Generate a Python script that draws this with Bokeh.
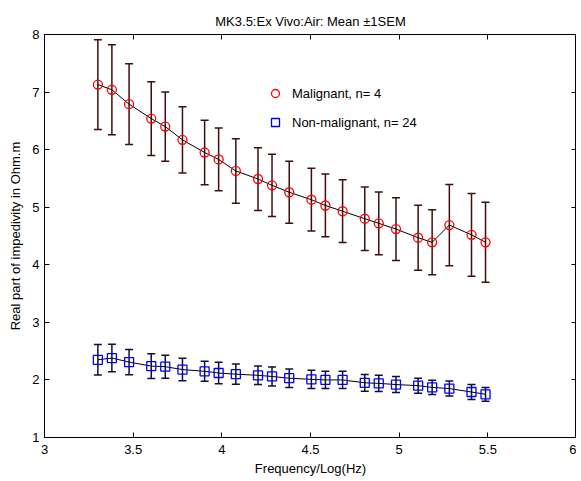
from bokeh.plotting import figure
from bokeh.models import (ColumnDataSource, Whisker, TeeHead, Legend, LegendItem,
                          LinearAxis, Range1d, FixedTicker)
from bokeh.embed import file_html
from bokeh.resources import INLINE

# ---- data ----
freq_log = [3.301, 3.380, 3.477, 3.602, 3.681, 3.778, 3.903, 3.982, 4.079, 4.204,
            4.283, 4.380, 4.505, 4.584, 4.681, 4.806, 4.885, 4.982, 5.107, 5.186,
            5.283, 5.408, 5.487]
mal_mean = [7.13, 7.04, 6.79, 6.54, 6.40, 6.17, 5.95, 5.83, 5.63, 5.49,
            5.38, 5.26, 5.13, 5.03, 4.93, 4.80, 4.72, 4.62, 4.47, 4.39,
            4.69, 4.52, 4.39]
mal_sem = [0.78, 0.78, 0.70, 0.64, 0.60, 0.575, 0.56, 0.545, 0.56, 0.545,
           0.54, 0.54, 0.545, 0.545, 0.545, 0.55, 0.545, 0.545, 0.565, 0.565,
           0.705, 0.72, 0.695]
non_mean = [2.35, 2.38, 2.31, 2.24, 2.23, 2.18, 2.15, 2.12, 2.10, 2.08,
            2.06, 2.03, 2.01, 2.00, 2.00, 1.95, 1.94, 1.92, 1.90, 1.87,
            1.85, 1.79, 1.75]
non_sem = [0.265, 0.24, 0.22, 0.215, 0.20, 0.195, 0.175, 0.185, 0.175, 0.16,
           0.165, 0.16, 0.16, 0.15, 0.15, 0.145, 0.14, 0.14, 0.13, 0.125,
           0.13, 0.13, 0.12]
x_ticks = [3, 3.5, 4, 4.5, 5, 5.5, 6]
y_ticks = [1, 2, 3, 4, 5, 6, 7, 8]
title_text = "MK3.5:Ex Vivo:Air: Mean \u00b11SEM"
labels = ["Malignant, n= 4", "Non-malignant, n= 24"]

FONT = "Liberation Sans"

mal_src = ColumnDataSource(dict(
    x=freq_log, y=mal_mean,
    upper=[m + s for m, s in zip(mal_mean, mal_sem)],
    lower=[m - s for m, s in zip(mal_mean, mal_sem)]))
non_src = ColumnDataSource(dict(
    x=freq_log, y=non_mean,
    upper=[m + s for m, s in zip(non_mean, non_sem)],
    lower=[m - s for m, s in zip(non_mean, non_sem)]))

p = figure(frame_width=532, frame_height=403, output_backend="svg",
           toolbar_location=None,
           x_range=Range1d(3, 6), y_range=Range1d(1, 8),
           min_border_left=44, min_border_right=0, min_border_top=34,
           min_border_bottom=0)
p.background_fill_color = "white"
p.border_fill_color = "white"
p.outline_line_color = "black"
p.outline_line_width = 1
p.grid.visible = False

p.title.text = title_text
p.title.align = "center"
p.title.text_font = FONT
p.title.text_font_size = "13px"
p.title.text_font_style = "normal"
p.title.text_color = "black"
p.title.standoff = 12

def style_axis(ax, ticks, show_labels=True):
    ax.ticker = FixedTicker(ticks=ticks)
    ax.axis_line_color = "black"
    ax.major_tick_line_color = "black"
    ax.major_tick_in = 5
    ax.major_tick_out = 0
    ax.minor_tick_line_color = None
    ax.major_label_text_font = FONT
    if show_labels:
        ax.major_label_text_color = "black"
        ax.major_label_text_font_size = "13px"
        ax.major_label_standoff = 5
    else:
        ax.major_label_text_color = None
        ax.major_label_text_font_size = "1px"
        ax.major_label_standoff = 0

style_axis(p.xaxis[0], x_ticks)
style_axis(p.yaxis[0], y_ticks)
p.xaxis[0].major_label_standoff = 7
p.xaxis[0].axis_label = "Frequency/Log(Hz)"
p.yaxis[0].axis_label = "Real part of impedivity in Ohm.m"
for ax in (p.xaxis[0], p.yaxis[0]):
    ax.axis_label_text_font = FONT
    ax.axis_label_text_font_size = "13px"
    ax.axis_label_text_font_style = "normal"
    ax.axis_label_text_color = "black"
p.xaxis[0].axis_label_standoff = 4
p.yaxis[0].axis_label_standoff = 6

top_ax = LinearAxis()
style_axis(top_ax, x_ticks, show_labels=False)
p.add_layout(top_ax, "above")
right_ax = LinearAxis()
style_axis(right_ax, y_ticks, show_labels=False)
p.add_layout(right_ax, "right")

# error bars
for src, col in ((mal_src, "#3d0f0f"), (non_src, "#0f0f3d")):
    w = Whisker(source=src, base="x", upper="upper", lower="lower",
                line_color=col, line_width=1.5,
                upper_head=TeeHead(size=8, line_color=col, line_width=1.5),
                lower_head=TeeHead(size=8, line_color=col, line_width=1.5))
    p.add_layout(w)

# connecting lines
p.line("x", "y", source=mal_src, line_color="black", line_width=1)
p.line("x", "y", source=non_src, line_color="black", line_width=1)

# markers
r_mal = p.scatter("x", "y", source=mal_src, marker="circle", size=9,
                  fill_color=None, line_color="#ff0000", line_width=1.3)
r_non = p.scatter("x", "y", source=non_src, marker="square", size=9,
                  fill_color=None, line_color="#0000ff", line_width=1.3)

legend = Legend(items=[LegendItem(label=labels[0], renderers=[r_mal]),
                       LegendItem(label=labels[1], renderers=[r_non])],
                location=(221, 302))
legend.border_line_color = None
legend.background_fill_alpha = 0
legend.padding = 0
legend.margin = 0
legend.spacing = 3
legend.glyph_width = 20
legend.glyph_height = 26
legend.label_height = 26
legend.label_standoff = 7
legend.label_text_font = FONT
legend.label_text_font_size = "13px"
legend.label_text_color = "black"
p.add_layout(legend)

open("out.html", "w").write(file_html(p, INLINE))
